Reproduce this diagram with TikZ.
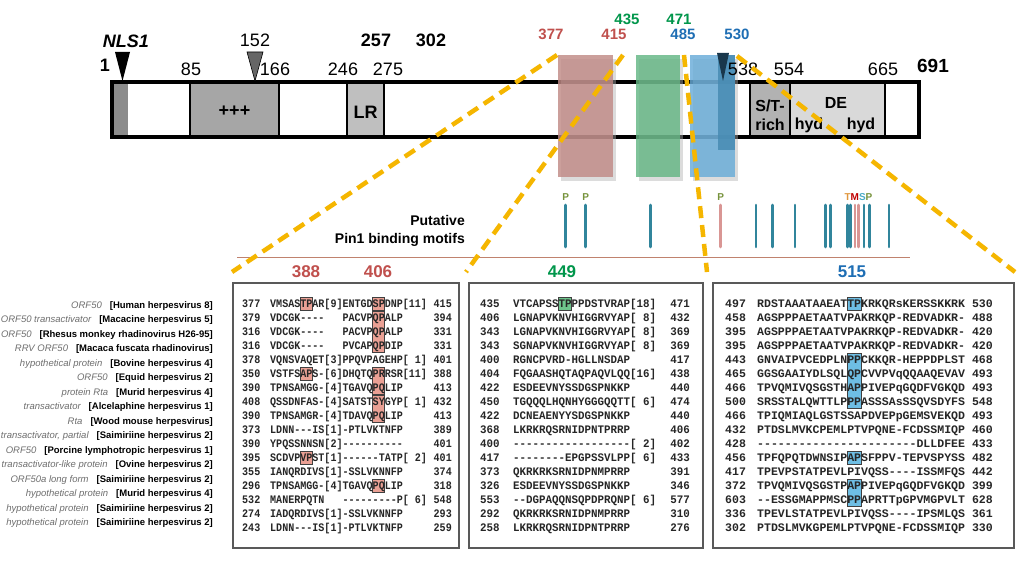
\documentclass[tikz,border=0pt]{standalone}
\usepackage{fontspec}
\setmainfont{Liberation Sans}
\newfontfamily\seqFontA[FakeStretch=0.874]{Liberation Mono}
\newfontfamily\seqFontB[FakeStretch=0.942]{Liberation Mono}
\newfontfamily\seqFontC[FakeStretch=1.004]{Liberation Mono}
\usepackage{tikz}
\usetikzlibrary{positioning}
\usepackage{xcolor}
\definecolor{siteRed}{RGB}{192,80,77}
\definecolor{siteGreen}{RGB}{0,150,75}
\definecolor{siteBlue}{RGB}{30,110,180}
\definecolor{rectRed}{RGB}{192,138,134}
\definecolor{rectGreen}{RGB}{100,182,132}
\definecolor{rectBlue}{RGB}{104,172,216}
\definecolor{rectDeep}{RGB}{70,138,178}
\definecolor{dashYellow}{RGB}{245,182,0}
\definecolor{tickTeal}{RGB}{49,133,156}
\definecolor{tickPink}{RGB}{217,150,148}
\definecolor{motifOlive}{RGB}{119,147,60}
\definecolor{motifOrange}{RGB}{224,150,60}
\definecolor{motifRed}{RGB}{192,0,0}
\definecolor{motifCyan}{RGB}{75,172,198}
\definecolor{protGray}{RGB}{110,110,110}
\definecolor{lineBrown}{RGB}{192,130,110}
\definecolor{boxRed}{RGB}{234,160,148}
\definecolor{boxGreen}{RGB}{110,196,140}
\definecolor{boxBlue}{RGB}{110,190,228}
\definecolor{triBlue}{RGB}{25,55,75}

\begin{document}
\begin{tikzpicture}[x=1pt,y=-1pt,
		barDecorate/.style={draw=black,line width=4pt},
		domainDecorate/.style={draw=black,line width=1.2pt},
		domainText/.style={inner sep=0pt,font=\fontsize{18}{20}\selectfont\bfseries},
		smallDomainText/.style={inner sep=0pt,font=\fontsize{16}{17}\selectfont\bfseries},
		posText/.style={inner sep=0pt,font=\fontsize{18}{20}\selectfont},
		siteText/.style={inner sep=0pt,font=\fontsize{15}{16}\selectfont\bfseries},
		regionDecorate/.style={opacity=0.82},
		shadowDecorate/.style={fill=black!30,opacity=0.45},
		tickDecorate/.style={line width=2.6pt,line cap=round},
		letterDecorate/.style={inner sep=0pt,font=\fontsize{10}{11}\selectfont\bfseries},
		zoomDecorate/.style={draw=dashYellow,line width=4.5pt,dash pattern=on 12pt off 7pt},
		panelDecorate/.style={draw=black!65,line width=2pt,fill=white,inner sep=0pt,anchor=north west},
		seqA/.style={inner sep=0pt,text=black!85,font=\seqFontA\fontsize{11.5}{12}\selectfont\bfseries},
		seqB/.style={inner sep=0pt,text=black!85,font=\seqFontB\fontsize{11.5}{12}\selectfont\bfseries},
		seqC/.style={inner sep=0pt,text=black!85,font=\seqFontC\fontsize{11.5}{12}\selectfont\bfseries},
		hitDecorate/.style={draw=black!75,line width=0.8pt},
		virusDecorate/.style={inner sep=0pt,anchor=base east,font=\fontsize{9.5}{10}\selectfont},
		titleDecorate/.style={inner sep=0pt,font=\fontsize{17}{18}\selectfont\bfseries}]
	%% page
	\useasboundingbox (0,0) rectangle (1024,577);
	\fill[white] (0,0) rectangle (1024,577);

	%% protein bar and its domains
	\fill[black!45] (112,82) rectangle (128,137);
	\foreach \xa/\xb/\shade in {190/279/35, 347/384/25, 750/790/30, 790/885/15}
	{
		\draw[domainDecorate,fill=black!\shade] (\xa,82) rectangle (\xb,137);
	}
	\node[domainText] (plus) at (234.5,111) {+++};
	\node[domainText] (leucine) at (365.5,112) {LR};
	\node[smallDomainText] (stRich) at (770,106) {S/T-};
	\node[smallDomainText] (stRichB) at (770,125) {rich};
	\node[smallDomainText] (acidic) at (836,103) {DE};
	\node[smallDomainText] (hydA) at (809,125) {hyd};
	\node[smallDomainText] (hydB) at (861,125) {hyd};
	\draw[barDecorate] (112,82) rectangle (919,137);

	%% transactivation regions
	\foreach \xa/\xb/\col in {558/613/rectRed, 636/680/rectGreen, 690/735/rectBlue}
	{
		\fill[shadowDecorate] (\xa+3,59) rectangle (\xb+3,181);
		\fill[regionDecorate,fill=\col] (\xa,55) rectangle (\xb,177);
	}
	\fill[regionDecorate,fill=rectDeep] (718,55) rectangle (735,150);

	%% markers
	\fill[black] (115,52) -- (130,52) -- (122.5,81) -- cycle;
	\draw[fill=black!60,line width=0.6pt] (247,52) -- (263,52) -- (255,81) -- cycle;
	\fill[triBlue] (717,53) -- (729,53) -- (723,81) -- cycle;

	%% residue numbers
	\node[inner sep=0pt,font=\fontsize{18}{20}\selectfont\bfseries\itshape] (nls) at (126,41) {NLS1};
	\node[domainText] (first) at (105,65) {1};
	\node[inner sep=0pt,font=\fontsize{19}{20}\selectfont\bfseries] (last) at (933,66) {691};
	\foreach \name/\x/\y in {85/191/69, 166/275/69, 246/343/69, 275/388/69,
		538/743/69, 554/789/69, 665/883/69, 152/255/40}
	{
		\node[posText] (pos\name) at (\x,\y) {\name};
	}
	\node[domainText] (pos257) at (376,40) {257};
	\node[domainText] (pos302) at (431,40) {302};
	\foreach \name/\x/\y/\col in {377/551/34/siteRed, 415/614/34/siteRed,
		435/627/19/siteGreen, 471/679/19/siteGreen,
		485/683/34/siteBlue, 530/737/34/siteBlue}
	{
		\node[siteText,text=\col] (site\name) at (\x,\y) {\name};
	}

	%% Pin1 motifs
	\node[inner sep=0pt,align=right,anchor=east,font=\fontsize{14}{18}\selectfont\bfseries] (motifs) at (465,231) {Putative\\Pin1 binding motifs};
	\foreach \x/\col in {565.7/tickTeal, 585.7/tickTeal, 650.7/tickTeal, 720.7/tickPink,
		756/tickTeal, 772.7/tickTeal, 795/tickTeal, 825.7/tickTeal, 830.7/tickTeal,
		847.3/tickTeal, 850.7/tickTeal, 855/tickPink, 858.3/tickPink, 864/tickTeal,
		869.3/tickTeal, 889/tickTeal}
	{
		\draw[tickDecorate,draw=\col] (\x,205) -- (\x,247);
	}
	\foreach \x [count=\k] in {565.7, 585.7, 720.7}
	{
		\node[letterDecorate,text=motifOlive] (pro\k) at (\x,197) {P};
	}
	\node[letterDecorate] (tmsp) at (858.5,197) {\color{motifOrange}T\color{motifRed}M\color{motifCyan}S\color{motifOlive}P};
	\draw[lineBrown,line width=0.8pt] (237,257.5) -- (910,257.5);

	%% alignment panels
	\node[panelDecorate,minimum width=226pt,minimum height=265pt] (panelA) at (232,282) {};
	\node[panelDecorate,minimum width=234pt,minimum height=265pt] (panelB) at (468,282) {};
	\node[panelDecorate,minimum width=301pt,minimum height=265pt] (panelC) at (712,282) {};
	\node[titleDecorate,text=siteRed] (titleA) at (306,272) {388};
	\node[titleDecorate,text=siteRed] (titleB) at (378,272) {406};
	\node[titleDecorate,text=siteGreen] (titleC) at (562,272) {449};
	\node[titleDecorate,text=siteBlue] (titleD) at (852,272) {515};

	%% boxed motifs
	\foreach \c/\ra/\rb in {5/0/0, 17/0/0, 17/1/3, 5/5/5, 17/5/6, 17/7/8, 5/11/11, 17/13/13}
	{
		\draw[hitDecorate,fill=boxRed] ({270+6.03*\c},{297.5+14*\ra}) rectangle ({270+6.03*(\c+2)},{310.5+14*\rb});
	}
	\draw[hitDecorate,fill=boxGreen] ({513+6.5*7},297.5) rectangle ({513+6.5*9},310.5);
	\foreach \ra/\rb in {0/0, 4/7, 11/11, 13/14}
	{
		\draw[hitDecorate,fill=boxBlue] ({757+6.93*13},{297.5+14*\ra}) rectangle ({757+6.93*15},{310.5+14*\rb});
	}

	%% sequences
	\foreach \s/\q/\e [count=\i from 0] in {
		377/VMSASTPAR[9]ENTGDSPDNP[11]/415, 379/VDCGK----~~~PACVPQPALP/394,
		316/VDCGK----~~~PACVPQPALP/331, 316/VDCGK----~~~PVCAPQPDIP/331,
		378/VQNSVAQET[3]PPQVPAGEHP[~1]/401, 350/VSTFSAPS-[6]DHQTQPRRSR[11]/388,
		390/TPNSAMGG-[4]TGAVQPQLIP/413, 408/QSSDNFAS-[4]SATSTSYGYP[~1]/432,
		390/TPNSAMGR-[4]TDAVQPQLIP/413, 373/LDNN---IS[1]-PTLVKTNFP/389,
		390/YPQSSNNSN[2]----------/401, 395/SCDVPVPST[1]------TATP[~2]/401,
		355/IANQRDIVS[1]-SSLVKNNFP/374, 296/TPNSAMGG-[4]TGAVQPQLIP/318,
		532/MANERPQTN~~~---------P[~6]/548, 274/IADQRDIVS[1]-SSLVKNNFP/293,
		243/LDNN---IS[1]-PTLVKTNFP/259}
	{
		\node[seqA,anchor=base west] (startA\i) at (242,{307.3+14*\i}) {\s};
		\node[seqA,anchor=base west] (rowA\i) at (270,{307.3+14*\i}) {\q};
		\node[seqA,anchor=base east] (endA\i) at (452,{307.3+14*\i}) {\e};
	}
	\foreach \s/\q/\e [count=\i from 0] in {
		435/VTCAPSSTPPPDSTVRAP[18]/471, 406/LGNAPVKNVHIGGRVYAP[~8]/432,
		343/LGNAPVKNVHIGGRVYAP[~8]/369, 343/SGNAPVKNVHIGGRVYAP[~8]/369,
		400/RGNCPVRD-HGLLNSDAP/417, 404/FQGAASHQTAQPAQVLQQ[16]/438,
		422/ESDEEVNYSSDGSPNKKP/440, 450/TGQQQLHQNHYGGGQQTT[~6]/474,
		422/DCNEAENYYSDGSPNKKP/440, 368/LKRKRQSRNIDPNTPRRP/406,
		400/------------------[~2]/402, 417/--------EPGPSSVLPP[~6]/433,
		373/QKRKRKSRNIDPNMPRRP/391, 326/ESDEEVNYSSDGSPNKKP/346,
		553/--DGPAQQNSQPDPRQNP[~6]/577, 292/QKRKRKSRNIDPNMPRRP/310,
		258/LKRKRQSRNIDPNTPRRP/276}
	{
		\node[seqB,anchor=base west] (startB\i) at (480,{307.3+14*\i}) {\s};
		\node[seqB,anchor=base west] (rowB\i) at (513,{307.3+14*\i}) {\q};
		\node[seqB,anchor=base east] (endB\i) at (690,{307.3+14*\i}) {\e};
	}
	\foreach \s/\q/\e [count=\i from 0] in {
		497/RDSTAAATAAEATTPKRKQRsKERSSKKRK/530, 458/AGSPPPAETAATVPAKRKQP-REDVADKR-/488,
		395/AGSPPPAETAATVPAKRKQP-REDVADKR-/420, 395/AGSPPPAETAATVPAKRKQP-REDVADKR-/420,
		443/GNVAIPVCEDPLNPPCKKQR-HEPPDPLST/468, 465/GGSGAAIYDLSQLQPCVVPVqQQAAQEVAV/493,
		466/TPVQMIVQSGSTHAPPIVEPqGQDFVGKQD/493, 500/SRSSTALQWTTLPPPASSSAsSSQVSDYFS/548,
		466/TPIQMIAQLGSTSSAPDVEPpGEMSVEKQD/493, 432/PTDSLMVKCPEMLPTVPQNE-FCDSSMIQP/460,
		428/-----------------------DLLDFEE/433, 456/TPFQPQTDWNSIPAPSFPPV-TEPVSPYSS/482,
		417/TPEVPSTATPEVLPIVQSS----ISSMFQS/442, 372/TPVQMIVQSGSTPAPPIVEPqGQDFVGKQD/399,
		603/--ESSGMAPPMSCPPAPRTTpGPVMGPVLT/628, 336/TPEVLSTATPEVLPIVQSS----IPSMLQS/361,
		302/PTDSLMVKGPEMLPTVPQNE-FCDSSMIQP/330}
	{
		\node[seqC,anchor=base west] (startC\i) at (725,{307.3+14*\i}) {\s};
		\node[seqC,anchor=base west] (rowC\i) at (757,{307.3+14*\i}) {\q};
		\node[seqC,anchor=base east] (endC\i) at (993,{307.3+14*\i}) {\e};
	}

	%% sequence names
	\foreach \prot/\virus [count=\k from 0] in {
		ORF50/Human herpesvirus 8, ORF50 transactivator/Macacine herpesvirus 5,
		ORF50/Rhesus monkey rhadinovirus H26-95, RRV ORF50/Macaca fuscata rhadinovirus,
		hypothetical protein/Bovine herpesvirus 4, ORF50/Equid herpesvirus 2,
		protein Rta/Murid herpesvirus 4, transactivator/Alcelaphine herpesvirus 1,
		Rta/Wood mouse herpesvirus, {transactivator, partial}/Saimiriine herpesvirus 2,
		ORF50/Porcine lymphotropic herpesvirus 1, transactivator-like protein/Ovine herpesvirus 2,
		ORF50a long form/Saimiriine herpesvirus 2, hypothetical protein/Murid herpesvirus 4,
		hypothetical protein/Saimiriine herpesvirus 2, hypothetical protein/Saimiriine herpesvirus 2}
	{
		\node[virusDecorate] (virus\k) at (213,{308+14.53*\k}) {{\color{protGray}\itshape\prot}\hspace{8pt}\textbf{[\virus]}};
	}

	%% zoom lines
	\coordinate (cutA) at (557,55);
	\coordinate (cutB) at (623,55);
	\coordinate (cutC) at (684,55);
	\coordinate (cutD) at (737,56);
	\draw[zoomDecorate] (cutA) -- ([yshift=10pt]panelA.north west);
	\draw[zoomDecorate] (cutB) -- ([xshift=-2pt,yshift=10pt]panelB.north west);
	\draw[zoomDecorate] (cutC) -- ([xshift=-5pt,yshift=10pt]panelC.north west);
	\draw[zoomDecorate] (cutD) -- ([yshift=10pt]panelC.north east);
\end{tikzpicture}
\end{document}
